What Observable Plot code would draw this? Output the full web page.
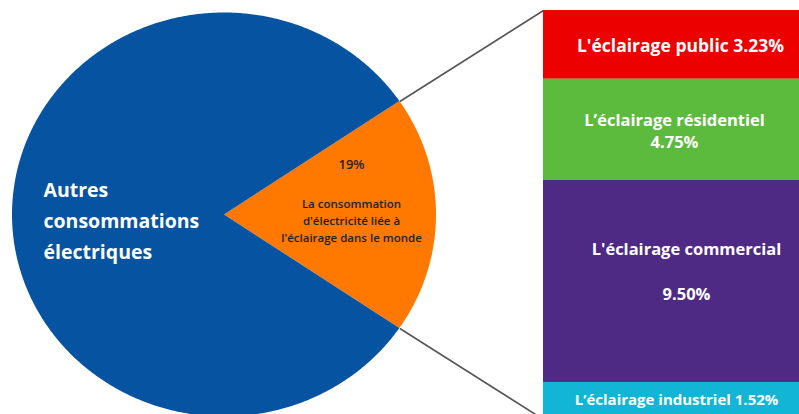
<!DOCTYPE html>
<html><head><meta charset="utf-8">
<script src="https://cdn.jsdelivr.net/npm/d3@7"></script>
<script src="https://cdn.jsdelivr.net/npm/@observablehq/plot@0.6"></script>
<style>html,body{margin:0;padding:0;background:#fff;overflow:hidden}#chart svg{display:block}</style>
</head><body><div id="chart"></div>
<script>
// ---- data ----
const pieCategories = ["Autres consommations électriques", "Éclairage"];
const pieShares = [81, 19];
const pieLabels = ["Autres\nconsommations\nélectriques", "La consommation\nd'électricité liée à\nl'éclairage dans le monde"];
const pieShareLabel = "19%";
const barCategories = ["public", "résidentiel", "commercial", "industriel"];
const barValues = [3.23, 4.75, 9.50, 1.52];
const barLabels = ["L'éclairage public 3.23%", "L’éclairage résidentiel\n4.75%", "L'éclairage commercial\n\n9.50%\n", "L’éclairage industriel 1.52%"];

// ---- styles ----
const pieColors = ["#0553A1", "#FF7800"];
const barColors = ["#EC0000", "#5CBA3D", "#4E2A84", "#12B5D5"];
const barFontSizes = [17.5, 16.5, 16.5, 15];
const barLabelShiftPx = [9, 3, 15, 5];

// ---- layout (pixels -> units) ----
const W = 799, H = 414, U = 21.28, TOP = 10;
const cx = 224 / U, cy = (214.5 - TOP) / U, rx = 212 / U, ry = 202 / U;
const barX0 = 543 / U, barX1 = 815 / U, barMid = 671 / U;

// pie wedges (orange slice centered on the right)
const total = d3.sum(pieShares);
const orangeA0 = 90 - pieShares[1] / total * 180;
const order = [1, 0];
let a = orangeA0;
const pieRows = [];
const bounds = {};
for (const i of order) {
  const span = pieShares[i] / total * 360;
  const a0 = a, a1 = a + span;
  const n = Math.ceil(span) * 2;
  for (let k = 0; k <= n; k++) {
    const t = (a0 + (a1 - a0) * k / n) * Math.PI / 180;
    pieRows.push({cat: pieCategories[i], x1: cx, y1: cy, x2: cx + rx * Math.sin(t), y2: cy - ry * Math.cos(t)});
  }
  bounds[i] = [a0, a1];
  a = a1;
}
const pt = deg => { const t = deg * Math.PI / 180; return [cx + rx * Math.sin(t), cy - ry * Math.cos(t)]; };
const [ua, la] = bounds[1];
const P1 = pt(ua), P2 = pt(la);
const links = [
  {x1: P1[0], y1: P1[1], x2: barX0, y2: 0},
  {x1: P2[0], y1: P2[1], x2: barX0, y2: 2 * cy}
];

const ends = d3.cumsum(barValues);
const barRows = barCategories.map((c, i) => ({
  cat: c, y1: ends[i] - barValues[i], y2: ends[i], mid: ends[i] - barValues[i] / 2,
  label: barLabels[i], size: barFontSizes[i], x: barMid + barLabelShiftPx[i] / U
}));

const chart = Plot.plot({
  width: W, height: H, margin: 0,
  x: {domain: [0, W / U], range: [0, W], axis: null},
  y: {domain: [-TOP / U, (H - TOP) / U], range: [0, H], axis: null},
  color: {domain: [...pieCategories, ...barCategories], range: [...pieColors, ...barColors]},
  style: {fontFamily: "'Open Sans', sans-serif", background: "white"},
  marks: [
    Plot.area(pieRows, {x1: "x1", y1: "y1", x2: "x2", y2: "y2", z: "cat", fill: "cat"}),
    Plot.link(links, {x1: "x1", y1: "y1", x2: "x2", y2: "y2", stroke: "#555", strokeWidth: 1.6}),
    Plot.rect(barRows, {x1: () => barX0, x2: () => barX1, y1: "y1", y2: "y2", fill: "cat"}),
    Plot.text(barRows, {x: "x", y: "mid", text: "label", fontSize: "size", fill: "white", fontWeight: "bold", lineHeight: 1.35}),
    Plot.text([pieLabels[0]], {x: () => 43 / U, y: () => cy + 3 / U, text: d => d, textAnchor: "start", fill: "white", fontWeight: "bold", fontSize: 19.5, lineHeight: 1.6}),
    Plot.text([pieShareLabel], {x: () => 351 / U, y: () => (164 - TOP) / U, text: d => d, fill: "#222", fontWeight: 600, fontSize: 13}),
    Plot.text([pieLabels[1]], {x: () => 351 / U, y: () => (219 - TOP) / U, text: d => d, fill: "#222", fontWeight: 600, fontSize: 11.5, lineHeight: 1.45})
  ]
});
document.getElementById("chart").append(chart);
</script>
</body></html>
